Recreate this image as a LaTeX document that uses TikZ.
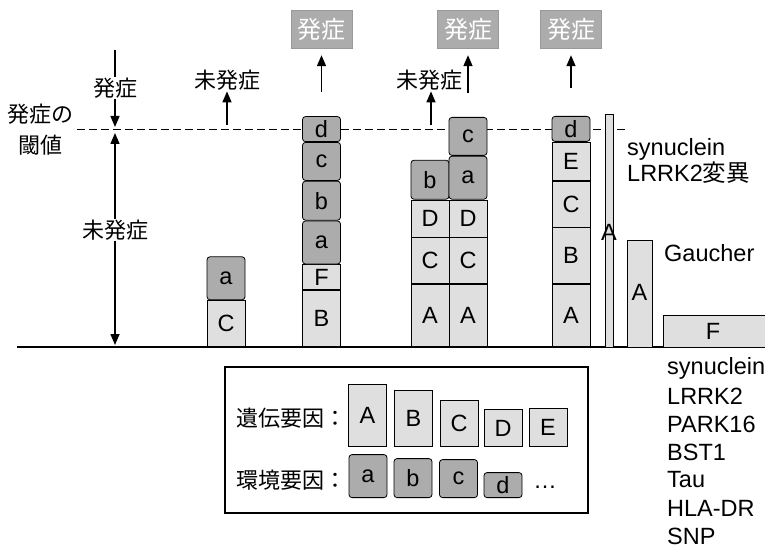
\documentclass[tikz,border=0pt]{standalone}
\usepackage{fontspec}
\setmainfont{Liberation Sans}
\newfontfamily\jp{Noto Sans CJK JP}
\usetikzlibrary{arrows.meta,positioning}

\tikzset{
  gen/.style={draw, line width=0.8pt, fill=gray!25, minimum width=38pt, inner sep=0pt},
  env/.style={draw, line width=0.8pt, fill=gray!65, rounded corners=3pt, minimum width=38pt, inner sep=0pt},
  fA/.style={gen, minimum height=62pt},
  fB/.style={gen, minimum height=56pt},
  fC/.style={gen, minimum height=46pt},
  fD/.style={gen, minimum height=37pt},
  fE/.style={gen, minimum height=38pt},
  fF/.style={gen, minimum height=25pt},
  fa/.style={env, minimum height=43pt},
  fb/.style={env, minimum height=39pt},
  fc/.style={env, minimum height=38pt},
  fd/.style={env, minimum height=25pt},
  onset/.style={fill=gray!65, draw=gray!80, text=white, minimum width=61pt, minimum height=38pt, inner sep=0pt, font=\jp\fontsize{24}{26}\selectfont},
  jtext/.style={font=\jp\fontsize{22}{31}\selectfont, inner sep=1pt},
  lbl/.style={anchor=west, inner sep=0pt},
  arr/.style={line width=1.5pt, -{Triangle[length=11pt,width=9pt]}},
}

\begin{document}
\begin{tikzpicture}[x=1pt, y=1pt, font=\fontsize{23.5}{26}\selectfont]
  \useasboundingbox (0,0) rectangle (765,558);

  % ground line and threshold
  \coordinate (g0) at (17,211);
  \coordinate (g1) at (765,211);
  \draw[line width=1.5pt] (g0) -- (g1);
  \coordinate (t0) at (77,429);
  \coordinate (t1) at (628,429);
  \draw[dash pattern=on 8pt off 4pt, line width=0.9pt] (t0) -- (t1);

  % left scale
  \node[jtext, align=center] (thr) at (40,428) {発症の\\閾値};
  \coordinate (s0) at (115,508);
  \node[jtext] (lon) at (115,470) {発症};
  \coordinate (s1) at (115,431);
  \coordinate (s2) at (115,425);
  \node[jtext] (lnon) at (115,328) {未発症};
  \coordinate (s3) at (115,213);
  \draw[line width=1.5pt] (s0) -- (lon);
  \draw[arr] (lon) -- (s1);
  \draw[arr] (lnon) -- (s2);
  \draw[arr] (lnon) -- (s3);

  % columns
  \node[fC, anchor=south] (c1C) at (226,211) {C};
  \node[fa, above=0pt of c1C] (c1a) {a};

  \node[fB, anchor=south] (c2B) at (321.5,211) {B};
  \node[fF, above=0pt of c2B] (c2F) {F};
  \node[fa, above=0pt of c2F] (c2a) {a};
  \node[fb, above=0pt of c2a] (c2b) {b};
  \node[fc, above=0pt of c2b] (c2c) {c};
  \node[fd, above=0pt of c2c] (c2d) {d};

  \node[fA, anchor=south] (c3A) at (430,211) {A};
  \node[fC, above=0pt of c3A] (c3C) {C};
  \node[fD, above=0pt of c3C] (c3D) {D};
  \node[fb, above=0pt of c3D] (c3b) {b};

  \node[fA, anchor=south] (c4A) at (468,211) {A};
  \node[fC, above=0pt of c4A] (c4C) {C};
  \node[fD, above=0pt of c4C] (c4D) {D};
  \node[fa, above=0pt of c4D] (c4a) {a};
  \node[fc, above=0pt of c4a] (c4c) {c};

  \node[fA, anchor=south] (c5A) at (571,211) {A};
  \node[fB, above=0pt of c5A] (c5B) {B};
  \node[fC, above=0pt of c5B] (c5C) {C};
  \node[fE, above=0pt of c5C] (c5E) {E};
  \node[fd, above=0pt of c5E] (c5d) {d};

  % outcome
  \node[onset] (on1) at (321.5,529) {発症};
  \node[onset] (on2) at (468,529) {発症};
  \node[onset] (on3) at (571,529) {発症};
  \draw[arr, shorten <=24pt, shorten >=7pt] (c2d.north) -- (on1.south);
  \draw[arr, shorten <=24pt, shorten >=7pt] (c4c.north) -- (on2.south);
  \draw[arr, shorten <=28pt, shorten >=7pt] (c5d.north) -- (on3.south);

  \node[jtext] (nu1) at (227,478) {未発症};
  \node[jtext] (nu2) at (429,478) {未発症};
  \coordinate (u1) at (227,433);
  \coordinate (u2) at (431,433);
  \draw[arr] (u1) -- (u1 |- nu1.south);
  \draw[arr] (u2) -- (u2 |- nu2.south);

  % single strong factors
  \draw[line width=0.8pt, fill=gray!25] (605,211) rectangle (613,444);
  \node (barA) at (609,326) {A};
  \draw[line width=0.8pt, fill=gray!25] (627,211) rectangle (652,318);
  \node (gauA) at (639.5,266) {A};
  \draw[line width=0.8pt, fill=gray!25] (663,211) rectangle (770,243);
  \node (barF) at (713,227) {F};

  \node[lbl] (syn) at (627,409) {synuclein};
  \node[lbl] (lrrk) at (627,385) {LRRK2{\jp 変異}};
  \node[lbl] (gau) at (664,305) {Gaucher};
  \foreach \t [count=\i] in {synuclein, LRRK2, PARK16, BST1, Tau, HLA-DR, SNP}
    \node[lbl] (gene\i) at (667,218-28*\i) {\t};

  % legend
  \draw[line width=1.6pt] (225,45) rectangle (588,191);
  \node[jtext, lbl] (lg) at (236,140) {遺伝要因：};
  \node[jtext, lbl] (le) at (236,78) {環境要因：};
  \foreach \f/\x in {A/367.5, B/413.5, C/459, D/503, E/548}
    \node[f\f, anchor=south] (k\f) at (\x,111) {\f};
  \foreach \f/\x in {a/368, b/413, c/458.5, d/503}
    \node[f\f, anchor=south] (k\f) at (\x,60) {\f};
  \node (kdots) at (545,71) {\dots};
\end{tikzpicture}
\end{document}
